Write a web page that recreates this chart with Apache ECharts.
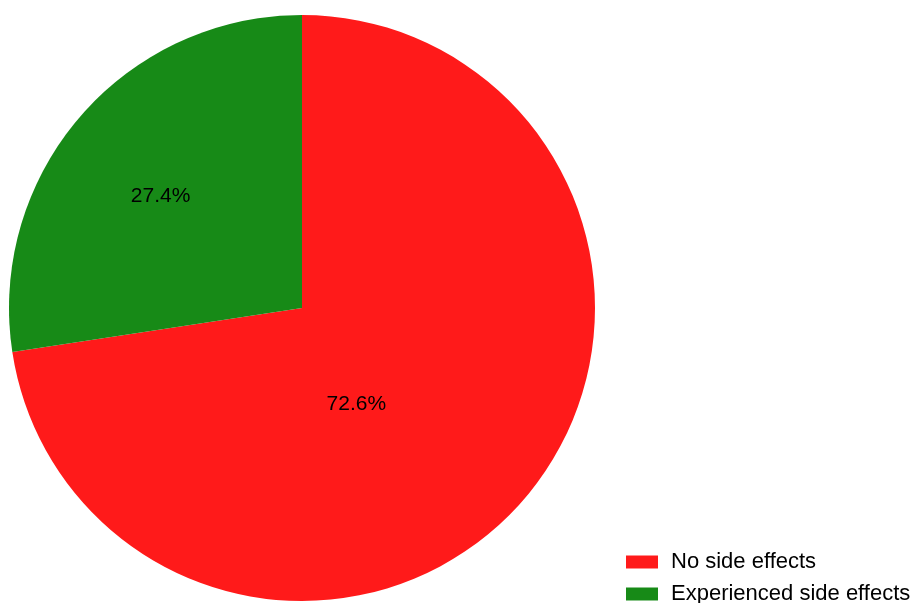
<!DOCTYPE html>
<html>
<head>
<meta charset="utf-8">
<style>
  html, body { margin: 0; padding: 0; background: #ffffff; }
  #chart { width: 914px; height: 603px; }
</style>
<script src="https://cdn.jsdelivr.net/npm/echarts@6/dist/echarts.min.js"></script>
</head>
<body>
<div id="chart"></div>
<script>
// Share of patients by side-effect outcome (percent)
const categories = ['No side effects', 'Experienced side effects'];
const shares = [72.6, 27.4];
const sliceColors = ['#ff1a1a', '#178a17'];

// Nudge each inside label from the slice midpoint
const labelShift = [[-59, -1], [-28, -14]];

const chart = echarts.init(document.getElementById('chart'), null, { renderer: 'canvas' });

chart.setOption({
  animation: false,
  backgroundColor: '#ffffff',
  legend: {
    orient: 'vertical',
    left: 626,
    top: 551,
    height: 60,
    padding: 0,
    itemWidth: 32,
    itemHeight: 13,
    itemGap: 10,
    icon: 'rect',
    data: categories,
    textStyle: {
      fontFamily: 'Liberation Sans, Arial, sans-serif',
      fontSize: 22,
      color: '#000000',
      padding: [0, 0, 0, 8]
    }
  },
  series: [{
    type: 'pie',
    center: [302, 308],
    radius: 293,
    startAngle: 90,
    clockwise: true,
    percentPrecision: 1,
    silent: true,
    label: {
      show: true,
      position: 'inside',
      formatter: '{d}%',
      fontFamily: 'Liberation Sans, Arial, sans-serif',
      fontSize: 21,
      color: '#000000'
    },
    labelLine: { show: false },
    itemStyle: { borderWidth: 0 },
    data: categories.map((name, i) => ({
      name: name,
      value: shares[i],
      itemStyle: { color: sliceColors[i] },
      label: { offset: labelShift[i] }
    }))
  }]
});
</script>
</body>
</html>
